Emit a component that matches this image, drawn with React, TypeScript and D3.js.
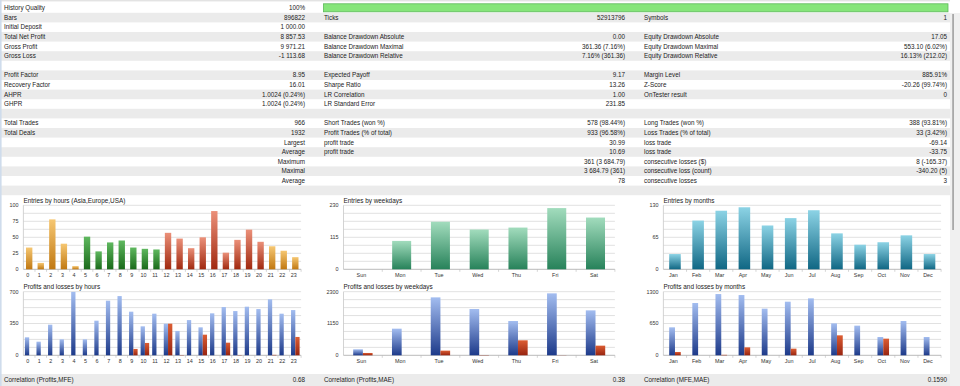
import React from 'react';
import * as d3 from 'd3';

// ---------- Table data ----------
const col1Labels = ['History Quality', 'Bars', 'Initial Deposit', 'Total Net Profit', 'Gross Profit', 'Gross Loss', '', 'Profit Factor', 'Recovery Factor', 'AHPR', 'GHPR', '', 'Total Trades', 'Total Deals', '', '', '', '', '', ''];
const col1Values = ['100%', '896822', '1 000.00', '8 857.53', '9 971.21', '-1 113.68', '', '8.95', '16.01', '1.0024 (0.24%)', '1.0024 (0.24%)', '', '966', '1932', 'Largest', 'Average', 'Maximum', 'Maximal', 'Average', ''];
const col2Labels = ['', 'Ticks', '', 'Balance Drawdown Absolute', 'Balance Drawdown Maximal', 'Balance Drawdown Relative', '', 'Expected Payoff', 'Sharpe Ratio', 'LR Correlation', 'LR Standard Error', '', 'Short Trades (won %)', 'Profit Trades (% of total)', 'profit trade', 'profit trade', '', '', '', ''];
const col2Values = ['', '52913796', '', '0.00', '361.36 (7.16%)', '7.16% (361.36)', '', '9.17', '13.26', '1.00', '231.85', '', '578 (98.44%)', '933 (96.58%)', '30.99', '10.69', '361 (3 684.79)', '3 684.79 (361)', '78', ''];
const col3Labels = ['', 'Symbols', '', 'Equity Drawdown Absolute', 'Equity Drawdown Maximal', 'Equity Drawdown Relative', '', 'Margin Level', 'Z-Score', 'OnTester result', '', '', 'Long Trades (won %)', 'Loss Trades (% of total)', 'loss trade', 'loss trade', 'consecutive losses ($)', 'consecutive loss (count)', 'consecutive losses', ''];
const col3Values = ['', '1', '', '17.05', '553.10 (6.02%)', '16.13% (212.02)', '', '885.91%', '-20.26 (99.74%)', '0', '', '', '388 (93.81%)', '33 (3.42%)', '-69.14', '-33.75', '8 (-165.37)', '-340.20 (5)', '3', ''];

const correlationLabels = ['Correlation (Profits,MFE)', 'Correlation (Profits,MAE)', 'Correlation (MFE,MAE)'];
const correlationValues = ['0.68', '0.38', '0.1590'];

// ---------- Chart data ----------
const hourCats = ['0', '1', '2', '3', '4', '5', '6', '7', '8', '9', '10', '11', '12', '13', '14', '15', '16', '17', '18', '19', '20', '21', '22', '23'];
const hourSessions = ['asia', 'asia', 'asia', 'asia', 'asia', 'europe', 'europe', 'europe', 'europe', 'europe', 'europe', 'europe', 'usa', 'usa', 'usa', 'usa', 'usa', 'usa', 'usa', 'usa', 'usa', 'asia', 'asia', 'asia'];
const hourEntries = [34, 10, 78, 40, 5, 51, 28, 42, 45, 34, 32, 31, 57, 48, 33, 50, 91, 26, 46, 62, 43, 36, 29, 19];
const hourProfits = [198, 150, 337, 176, 698, 176, 381, 601, 652, 480, 319, 458, 348, 268, 388, 308, 462, 531, 487, 535, 509, 616, 458, 498];
const hourLosses = [0, 0, 0, 0, 0, 0, 0, 0, 0, 70, 136, 0, 348, 3, 0, 227, 0, 139, 3, 0, 0, 5, 0, 202];
const hourEntryTicks = [0, 25, 50, 75, 100];
const hourPLTicks = [0, 350, 700];

const dayCats = ['Sun', 'Mon', 'Tue', 'Wed', 'Thu', 'Fri', 'Sat'];
const dayEntries = [0, 102, 171, 143, 150, 220, 186];
const dayProfits = [217, 963, 2095, 1674, 1240, 2240, 1625];
const dayLosses = [84, 0, 169, 10, 542, 5, 349];
const dayEntryTicks = [0, 115, 230];
const dayPLTicks = [0, 1150, 2300];

const monthCats = ['Jan', 'Feb', 'Mar', 'Apr', 'May', 'Jun', 'Jul', 'Aug', 'Sep', 'Oct', 'Nov', 'Dec'];
const monthEntries = [31, 99, 119, 126, 89, 104, 120, 73, 50, 55, 69, 31];
const monthProfits = [572, 1069, 1252, 1232, 953, 1096, 1164, 653, 606, 374, 701, 374];
const monthLosses = [68, 0, 10, 163, 0, 136, 0, 408, 0, 340, 0, 0];
const monthEntryTicks = [0, 65, 130];
const monthPLTicks = [0, 650, 1300];

const gradients: Record<string, [string, string]> = {
  asia: ['#f6c772', '#c07812'],
  europe: ['#5fb85f', '#1a6a1a'],
  usa: ['#eb9079', '#a0290f'],
  profit: ['#a3bdf0', '#1d3a8a'],
  loss: ['#dc5d33', '#982410'],
  day: ['#a2dcbd', '#27825a'],
  month: ['#8cd3e5', '#106784'],
};

const FONT = "'Liberation Sans', Arial, sans-serif";

type Series = { values: number[]; fill: (i: number) => string };

function BarChart(props: {
  left: number; right: number; top: number; bottom: number;
  title: string; cats: string[]; ticks: number[]; series: Series[]; groupFrac: number;
}) {
  const { left, right, top, bottom, title, cats, ticks, series, groupFrac } = props;
  const max = ticks[ticks.length - 1];
  const x = d3.scaleBand<string>().domain(cats).range([left, right]).padding(0);
  const y = d3.scaleLinear().domain([0, max]).range([bottom, top]);
  const grid = d3.range(1, 9).map((i) => (max * i) / 8);
  const bw = x.bandwidth();
  const gw = bw * groupFrac;
  const sw = gw / series.length;
  return (
    <g>
      <text x={left} y={top - 2.6} fontSize={6.4} fill="#222" fontFamily={FONT}>{title}</text>
      {grid.map((g, i) => (
        <line key={'g' + i} x1={left} x2={right} y1={y(g)} y2={y(g)} stroke="#d9d9d9" strokeWidth={0.8} />
      ))}
      <line x1={left} x2={left} y1={top} y2={bottom} stroke="#c8c8c8" strokeWidth={0.8} />
      <line x1={left} x2={right} y1={bottom} y2={bottom} stroke="#a8a8a8" strokeWidth={0.8} />
      {cats.map((c, i) => (
        <line key={'t' + i} x1={(x(c) as number) + bw} x2={(x(c) as number) + bw} y1={bottom} y2={bottom + 2.5} stroke="#b8b8b8" strokeWidth={0.6} />
      ))}
      {ticks.map((t, i) => (
        <text key={'y' + i} x={left - 5} y={y(t) + 1.9} fontSize={5.4} fill="#333" textAnchor="end" fontFamily={FONT}>{t}</text>
      ))}
      {cats.map((c, i) => (
        <text key={'x' + i} x={(x(c) as number) + bw / 2 - 1.5} y={bottom + 7.7} fontSize={5.4} fill="#333" textAnchor="middle" fontFamily={FONT}>{c}</text>
      ))}
      {series.map((s, si) =>
        s.values.map((v, i) => {
          if (v <= 0) return null;
          const cx = (x(cats[i]) as number) + bw / 2;
          const x0 = cx - gw / 2 + si * sw;
          return (
            <rect key={'b' + si + '-' + i} x={x0} y={y(v)} width={sw} height={bottom - y(v)} fill={s.fill(i)} />
          );
        })
      )}
    </g>
  );
}

export default function App() {
  const rowH = 9.6;
  const row0 = 3.2;
  const rows = col1Labels.map((_, i) => i);
  const cols = [
    { lx: 4, vx: 305, labels: col1Labels, values: col1Values },
    { lx: 324, vx: 625, labels: col2Labels, values: col2Values },
    { lx: 644, vx: 947, labels: col3Labels, values: col3Values },
  ];
  const gradId = (k: string) => 'grad-' + k;

  const colX = [
    { left: 23.4, right: 301.1 },
    { left: 343.5, right: 614.9 },
    { left: 663.4, right: 941.1 },
  ];
  const r1 = { top: 205.3, bottom: 269.3 };
  const r2 = { top: 291.7, bottom: 355.3 };

  return (
    <svg width={960} height={386} style={{ position: 'absolute', left: 0, top: 0, background: '#fff' }} fontFamily={FONT}>
      <defs>
        {Object.keys(gradients).map((k) => (
          <linearGradient key={k} id={gradId(k)} x1="0" y1="0" x2="0" y2="1">
            <stop offset="0" stopColor={gradients[k][0]} />
            <stop offset="1" stopColor={gradients[k][1]} />
          </linearGradient>
        ))}
      </defs>
      <rect x={0} y={0} width={960} height={386} fill="#fff" />
      {/* top border */}
      <line x1={0} x2={950} y1={0.8} y2={0.8} stroke="#d8d8d8" strokeWidth={1} />
      {/* row shading */}
      {rows.filter((i) => i % 2 === 1).map((i) => (
        <rect key={'rs' + i} x={0} y={row0 + i * rowH} width={950} height={rowH} fill="#ebebeb" />
      ))}
      {/* history quality bar */}
      <rect x={323.5} y={3.8} width={624.5} height={8} fill="#86e57a" stroke="#5cb85a" strokeWidth={0.8} />
      {/* table text */}
      {cols.map((c, ci) =>
        rows.map((i) => (
          <g key={'t' + ci + '-' + i}>
            {c.labels[i] && (
              <text x={c.lx} y={row0 + i * rowH + 7} fontSize={6.3} fill="#222">{c.labels[i]}</text>
            )}
            {c.values[i] && (
              <text x={c.vx} y={row0 + i * rowH + 7} fontSize={6.3} fill="#222" textAnchor="end">{c.values[i]}</text>
            )}
          </g>
        ))
      )}

      {/* charts */}
      <BarChart {...colX[0]} {...r1} title="Entries by hours (Asia,Europe,USA)" cats={hourCats} ticks={hourEntryTicks}
        series={[{ values: hourEntries, fill: (i) => `url(#${gradId(hourSessions[i])})` }]} groupFrac={0.55} />
      <BarChart {...colX[0]} {...r2} title="Profits and losses by hours" cats={hourCats} ticks={hourPLTicks}
        series={[
          { values: hourProfits, fill: () => `url(#${gradId('profit')})` },
          { values: hourLosses, fill: () => `url(#${gradId('loss')})` },
        ]} groupFrac={0.74} />
      <BarChart {...colX[1]} {...r1} title="Entries by weekdays" cats={dayCats} ticks={dayEntryTicks}
        series={[{ values: dayEntries, fill: () => `url(#${gradId('day')})` }]} groupFrac={0.49} />
      <BarChart {...colX[1]} {...r2} title="Profits and losses by weekdays" cats={dayCats} ticks={dayPLTicks}
        series={[
          { values: dayProfits, fill: () => `url(#${gradId('profit')})` },
          { values: dayLosses, fill: () => `url(#${gradId('loss')})` },
        ]} groupFrac={0.5} />
      <BarChart {...colX[2]} {...r1} title="Entries by months" cats={monthCats} ticks={monthEntryTicks}
        series={[{ values: monthEntries, fill: () => `url(#${gradId('month')})` }]} groupFrac={0.5} />
      <BarChart {...colX[2]} {...r2} title="Profits and losses by months" cats={monthCats} ticks={monthPLTicks}
        series={[
          { values: monthProfits, fill: () => `url(#${gradId('profit')})` },
          { values: monthLosses, fill: () => `url(#${gradId('loss')})` },
        ]} groupFrac={0.5} />

      {/* correlation row */}
      <rect x={0} y={374} width={950} height={12} fill="#ebebeb" />
      {correlationLabels.map((l, i) => (
        <g key={'c' + i}>
          <text x={cols[i].lx} y={381.8} fontSize={6.3} fill="#222">{l}</text>
          <text x={cols[i].vx} y={381.8} fontSize={6.3} fill="#222" textAnchor="end">{correlationValues[i]}</text>
        </g>
      ))}

      {/* left border */}
      <rect x={0} y={0} width={1.6} height={386} fill="#cfdcec" />
      {/* scrollbar */}
      <rect x={950} y={13} width={10} height={373} fill="#f0f0f0" />
      <rect x={952.2} y={14} width={1.8} height={216} fill="#a9a9a9" />
    </svg>
  );
}
